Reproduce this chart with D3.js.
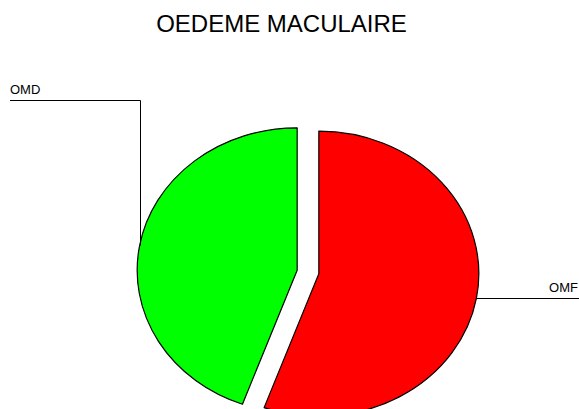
<!DOCTYPE html>
<html>
<head>
<meta charset="utf-8">
<script src="https://cdn.jsdelivr.net/npm/d3@7"></script>
<style>
  body { margin: 0; background: #fff; }
  svg { display: block; font-family: "Liberation Sans", Arial, sans-serif; }
</style>
</head>
<body>
<svg id="chart"></svg>
<script>
const labels = ["OMF", "OMD"];
const values = [5, 4];
const colors = ["#ff0000", "#00ff00"];
const title = "OEDEME MACULAIRE";

const width = 579, height = 409;
const cx = 308, cy = 272;      // pie centre
const rx = 160, ry = 142.5;    // pie is drawn as an ellipse
const k = ry / rx;
const explode = 11;

const svg = d3.select("#chart")
    .attr("width", width)
    .attr("height", height);

svg.append("text")
    .attr("x", 281.5)
    .attr("y", 32)
    .attr("text-anchor", "middle")
    .attr("font-size", 24)
    .text(title);

const pie = d3.pie().sort(null).value(d => d)(values);
const arc = d3.arc().innerRadius(0).outerRadius(rx);

// point on the ellipse edge at a given pie angle
function edge(a, ox, oy) {
    return [cx + ox + rx * Math.sin(a), cy + oy - ry * Math.cos(a)];
}

const slices = svg.append("g");

pie.forEach((d, i) => {
    const mid = (d.startAngle + d.endAngle) / 2;
    const ox = explode * Math.sin(mid);
    const oy = -explode * Math.cos(mid) * k;

    slices.append("path")
        .attr("d", arc(d))
        .attr("transform", `translate(${cx + ox},${cy + oy}) scale(1,${k})`)
        .attr("fill", colors[i])
        .attr("stroke", "#000")
        .attr("stroke-width", 1.2)
        .attr("vector-effect", "non-scaling-stroke")
        .attr("stroke-linejoin", "round");

    // leader line and label
    const p = edge(mid, ox, oy);
    const g = svg.append("g");
    if (p[0] < cx) {
        const x = Math.round(p[0]) + 0.5;
        g.append("polyline")
            .attr("points", `${x},${p[1]} ${x},100.5 10,100.5`)
            .attr("fill", "none")
            .attr("stroke", "#000");
        g.append("text")
            .attr("x", 10)
            .attr("y", 94)
            .attr("font-size", 13)
            .text(labels[i]);
    } else {
        const y = Math.round(p[1]) + 0.5;
        g.append("line")
            .attr("x1", p[0]).attr("y1", y)
            .attr("x2", width).attr("y2", y)
            .attr("stroke", "#000");
        g.append("text")
            .attr("x", 578)
            .attr("y", 292)
            .attr("text-anchor", "end")
            .attr("font-size", 13)
            .text(labels[i]);
    }
});
</script>
</body>
</html>
